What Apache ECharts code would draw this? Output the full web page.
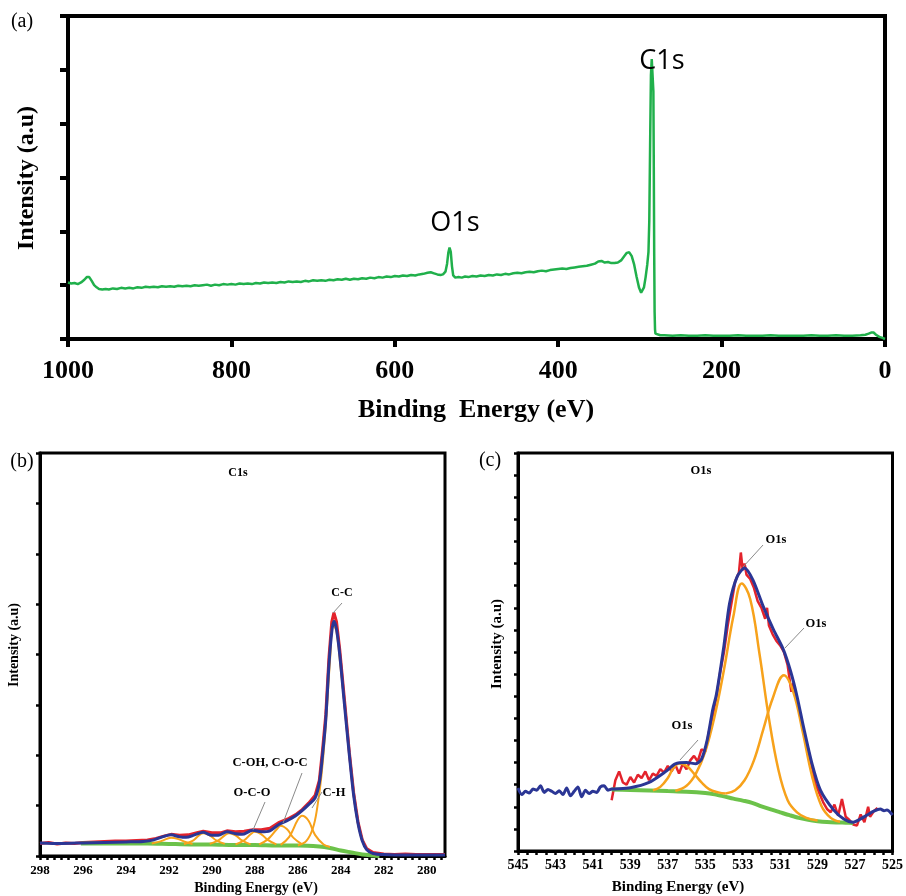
<!DOCTYPE html>
<html>
<head>
<meta charset="utf-8">
<title>XPS spectra</title>
<script src="https://cdn.jsdelivr.net/npm/echarts/dist/echarts.min.js"></script>
<style>
  html, body { margin: 0; padding: 0; background: #fff; }
  #chart { width: 906px; height: 896px; }
</style>
</head>
<body>
<div id="chart"></div>
<script>
// (a) survey spectrum  [binding energy eV, intensity a.u.]
var surveyPts = [
  [1000,1.05],[996,1.03],[992,1.04],[988,1.02],[984,1.05],[980,1.1],[977,1.15],[974,1.15],[971,1.08],[968,1.0],
  [965,0.96],[962,0.93],[958,0.92],[954,0.93],[950,0.92],[945,0.94],[940,0.93],[935,0.95],[930,0.94],[925,0.95],
  [920,0.94],[915,0.96],[910,0.95],[905,0.97],[900,0.96],[895,0.97],[890,0.96],[885,0.98],[880,0.97],[875,0.98],
  [870,0.97],[865,0.99],[860,0.98],[855,0.99],[850,0.98],[845,1.0],[840,0.99],[835,1.0],[830,1.01],[825,0.99],
  [820,1.01],[815,1.0],[810,1.02],[805,1.01],[800,1.02],[795,1.01],[790,1.03],[785,1.02],[780,1.03],[775,1.02],
  [770,1.04],[765,1.03],[760,1.05],[755,1.04],[750,1.05],[745,1.04],[740,1.06],[735,1.05],[730,1.07],[725,1.06],
  [720,1.07],[715,1.06],[710,1.08],[705,1.07],[700,1.09],[695,1.08],[690,1.09],[685,1.08],[680,1.1],[675,1.09],
  [670,1.11],[665,1.1],[660,1.12],[655,1.1],[650,1.12],[645,1.11],[640,1.13],[635,1.12],[630,1.14],[625,1.13],
  [620,1.15],[615,1.14],[610,1.16],[605,1.15],[600,1.17],[595,1.16],[590,1.18],[585,1.17],[580,1.19],[575,1.18],
  [570,1.2],[565,1.21],[560,1.23],[556,1.24],[552,1.22],[548,1.2],[544,1.19],[541,1.2],[538,1.25],[536,1.4],
  [534.5,1.6],[533,1.7],[531.5,1.62],[530,1.35],[528.5,1.18],[526,1.14],[522,1.15],[518,1.14],[514,1.16],[510,1.15],
  [505,1.17],[500,1.16],[495,1.18],[490,1.17],[485,1.19],[480,1.18],[475,1.2],[470,1.19],[465,1.21],[460,1.2],
  [455,1.22],[450,1.23],[445,1.22],[440,1.24],[435,1.25],[430,1.24],[425,1.26],[420,1.27],[415,1.26],[410,1.28],
  [405,1.29],[400,1.3],[395,1.31],[390,1.3],[385,1.32],[380,1.33],[375,1.34],[370,1.35],[365,1.36],[360,1.38],
  [355,1.4],[351,1.44],[347,1.45],[343,1.42],[339,1.43],[335,1.41],[331,1.41],[327,1.42],[323,1.46],[319,1.54],
  [316,1.6],[313,1.61],[310,1.54],[307,1.38],[304,1.15],[301,0.95],[298.5,0.86],[297,0.85],[295,0.96],[293,1.15],
  [291,1.38],[289.5,1.62],[288.5,2.2],[287.5,3.6],[286.5,4.9],[285.5,5.2],[284.5,5.2],[283.5,4.6],[283,3.2],[282.5,1.6],
  [282,0.5],[281.5,0.18],[281,0.1],[280,0.08],[275,0.07],[270,0.07],[260,0.06],[250,0.07],[240,0.06],[230,0.06],
  [220,0.07],[210,0.06],[200,0.06],[190,0.06],[180,0.07],[170,0.06],[160,0.06],[150,0.06],[140,0.07],[130,0.06],
  [120,0.06],[110,0.06],[100,0.06],[90,0.07],[80,0.06],[70,0.06],[60,0.07],[50,0.06],[40,0.06],[30,0.07],
  [24,0.08],[20,0.1],[17,0.12],[14,0.12],[11,0.08],[7,0.04],[3,0.02],[0,0.0]
];
var surveyTicks = [0, 200, 400, 600, 800, 1000];

// (b) C1s high resolution
var c1sRaw = [
  [298,0.25],[297.6,0.27],[297.2,0.24],[296.8,0.26],[296.4,0.25],[296,0.27],[295.5,0.28],[295,0.29],[294.5,0.3],[294,0.3],
  [293.5,0.31],[293,0.32],[292.6,0.35],[292.2,0.4],[291.9,0.43],[291.5,0.41],[291.1,0.42],[290.7,0.46],[290.4,0.49],[290.0,0.46],
  [289.6,0.46],[289.3,0.5],[288.9,0.48],[288.5,0.49],[288.1,0.52],[287.7,0.52],[287.3,0.55],[286.9,0.66],[286.5,0.73],[286.1,0.82],
  [285.8,0.92],[285.5,1.05],[285.2,1.2],[285.0,1.5],[284.85,2.1],[284.7,2.8],[284.55,3.95],[284.42,4.65],[284.32,4.83],[284.2,4.65],
  [284.05,4.1],[283.85,3.2],[283.6,2.05],[283.4,1.25],[283.2,0.68],[283.0,0.32],[282.8,0.15],[282.5,0.07],[282.0,0.04],[281.5,0.03],
  [281,0.04],[280.5,0.03],[280,0.03],[279.15,0.03]
];
var c1sFit = [
  [298,0.26],[297,0.25],[296,0.26],[295,0.27],[294,0.28],[293.2,0.29],[292.7,0.32],[292.3,0.38],[291.9,0.42],[291.5,0.38],
  [291.2,0.37],[290.8,0.42],[290.4,0.47],[290.0,0.41],[289.7,0.41],[289.3,0.48],[288.9,0.44],[288.6,0.43],[288.1,0.51],[287.7,0.48],
  [287.3,0.5],[286.9,0.62],[286.5,0.7],[286.1,0.8],[285.8,0.9],[285.5,1.02],[285.2,1.15],[285.0,1.45],[284.85,2.0],[284.7,2.7],
  [284.55,3.8],[284.42,4.45],[284.32,4.66],[284.2,4.5],[284.05,4.0],[283.85,3.1],[283.6,2.0],[283.4,1.2],[283.2,0.65],[283.0,0.3],
  [282.8,0.13],[282.5,0.05],[282.0,0.03],[281,0.02],[280,0.02],[279.15,0.02]
];
var c1sBg = [
  [296.1,0.25],[295,0.25],[294,0.25],[293,0.25],[292,0.24],[291,0.23],[290,0.23],[289,0.22],[288,0.22],[287,0.21],
  [286,0.21],[285,0.19],[284.5,0.16],[284,0.11],[283.5,0.07],[283,0.03],[282.5,0.01],[282.2,0]
];
var c1sPeaks = [
  [[292.8,0.25],[292.4,0.29],[292.1,0.34],[291.9,0.36],[291.6,0.34],[291.3,0.29],[290.9,0.24]],
  [[291.3,0.24],[290.9,0.3],[290.6,0.41],[290.4,0.45],[290.1,0.41],[289.8,0.31],[289.4,0.24]],
  [[290.1,0.24],[289.7,0.31],[289.4,0.41],[289.2,0.45],[288.9,0.41],[288.6,0.31],[288.2,0.23]],
  [[288.9,0.23],[288.5,0.31],[288.2,0.43],[288.0,0.48],[287.7,0.43],[287.4,0.32],[287.0,0.23]],
  [[287.8,0.23],[287.4,0.33],[287.0,0.52],[286.8,0.6],[286.5,0.53],[286.2,0.36],[285.8,0.23]],
  [[286.8,0.22],[286.4,0.38],[286.0,0.72],[285.8,0.8],[285.5,0.7],[285.2,0.42],[284.8,0.23],[284.5,0.18]],
  [[286.0,0.21],[285.6,0.3],[285.3,0.55],[285.1,0.95],[284.9,1.6],[284.7,2.6],[284.5,3.9],[284.35,4.6],[284.2,4.45],[284.0,3.7],
   [283.8,2.9],[283.5,1.6],[283.2,0.65],[282.9,0.2],[282.6,0.06],[282.3,0.02]]
];
var c1sLabels = [280, 282, 284, 286, 288, 290, 292, 294, 296, 298];

// (c) O1s high resolution
var o1sRaw = [
  [540.0,2.3],[539.8,3.2],[539.6,3.6],[539.4,3.1],[539.2,3.0],[539.0,3.35],[538.8,3.1],[538.6,3.45],[538.4,3.3],[538.2,3.6],
  [538.0,3.2],[537.8,3.5],[537.6,3.4],[537.4,3.7],[537.2,3.55],[537.0,3.85],[536.8,3.6],[536.6,3.9],[536.4,3.5],[536.2,3.95],
  [536.0,3.7],[535.8,4.1],[535.6,4.3],[535.4,4.05],[535.2,4.6],[535.0,4.5],[534.8,5.4],[534.6,6.1],[534.4,7.0],[534.2,8.1],
  [534.0,9.0],[533.8,10.2],[533.6,11.2],[533.4,12.2],[533.2,12.6],[533.1,13.5],[533.0,12.7],[532.9,13.0],[532.8,12.5],[532.6,12.3],
  [532.4,11.9],[532.2,11.3],[532.0,11.0],[531.8,10.5],[531.7,11.0],[531.6,10.2],[531.4,9.8],[531.2,9.5],[531.0,9.3],[530.8,9.0],
  [530.6,8.4],[530.4,7.2],[530.3,7.6],[530.1,6.8],[529.9,6.1],[529.7,5.2],[529.5,4.6],[529.3,3.8],[529.1,3.0],[528.9,2.6],
  [528.7,2.2],[528.5,1.9],[528.3,1.75],[528.1,2.1],[527.9,1.6],[527.7,2.35],[527.5,1.55],[527.3,1.4],[527.1,1.2],[526.9,1.15],
  [526.7,1.65],[526.5,1.3],[526.3,2.0],[526.2,1.55],[526.0,1.8],[525.8,1.95]
];
var o1sFit = [
  [545,2.85],[544.8,2.55],[544.6,2.7],[544.4,2.62],[544.2,2.8],[544.0,2.75],[543.8,2.95],[543.6,2.65],[543.4,2.78],[543.2,2.7],
  [543.0,2.6],[542.8,2.72],[542.6,2.55],[542.4,2.85],[542.2,2.5],[542.0,2.7],[541.8,2.9],[541.6,2.45],[541.4,2.75],[541.2,2.6],
  [541.0,2.7],[540.8,2.65],[540.6,2.9],[540.4,2.95],[540.2,2.75],[540.0,2.8],[539.0,2.86],[538.0,3.1],[537.1,3.6],[536.6,3.94],
  [536.0,4.0],[535.5,3.95],[535.2,4.15],[534.9,5.0],[534.6,6.4],[534.4,7.1],[534.0,9.3],[533.7,11.2],[533.3,12.4],[532.9,12.8],
  [532.45,12.25],[531.9,11.05],[531.35,10.0],[530.85,9.15],[530.45,8.15],[530.1,7.0],[529.75,5.6],[529.3,3.95],[528.85,2.75],[528.15,1.86],
  [527.6,1.45],[527.1,1.3],[526.7,1.45],[526.35,1.63],[526.0,1.8],[525.65,1.9],[525.45,1.82],[525.3,1.85],[525.0,1.63]
];
var o1sBg = [
  [540,2.78],[539,2.76],[538,2.74],[537,2.71],[536,2.68],[535,2.62],[534.5,2.56],[534,2.47],[533.5,2.37],[533,2.28],
  [532.5,2.18],[532,2.02],[531.5,1.88],[531,1.75],[530.5,1.62],[530,1.5],[529.5,1.41],[529,1.35],[528.5,1.31],[528,1.29],
  [527.5,1.28],[527.1,1.27]
];
var o1sPeaks = [
  [[537.8,2.74],[537.4,2.9],[537.0,3.3],[536.7,3.75],[536.4,3.96],[536.0,3.85],[535.6,3.5],[535.2,3.1],[534.8,2.8],[534.3,2.65],[533.9,2.6]],
  [[536.6,2.72],[536.0,2.95],[535.5,3.5],[535.0,4.5],[534.5,6.1],[534.0,8.2],[533.5,10.6],[533.05,12.1],[532.6,11.4],[532.1,8.9],
   [531.6,6.0],[531.1,3.7],[530.6,2.3],[530.1,1.75],[529.6,1.5],[529.0,1.38]],
  [[533.9,2.6],[533.4,2.75],[532.9,3.2],[532.4,4.1],[531.9,5.5],[531.4,6.9],[530.8,7.95],[530.3,7.2],[529.8,5.4],[529.3,3.4],
   [528.8,2.05],[528.3,1.5],[527.8,1.32]]
];
var o1sLabels = [525, 527, 529, 531, 533, 535, 537, 539, 541, 543, 545];

var SERIF = "'Liberation Serif', 'Times New Roman', serif";
var RED = '#e3232c', BLUE = '#2b3695', ORANGE = '#f7a21b', GREEN = '#6cc24a', SURVEY = '#20b04b';

function ln(data, color, width, idx, smooth, z) {
  return {
    type: 'line', data: data, xAxisIndex: idx, yAxisIndex: idx,
    showSymbol: false, smooth: smooth, z: z, silent: true, animation: false,
    lineStyle: { color: color, width: width }
  };
}

// dotted tick marks along the small panels
function steps(from, to, step) {
  var out = [];
  for (var v = from; v <= to + 1e-6; v += step) out.push(+v.toFixed(3));
  return out;
}
var c1sTicks = steps(279 + 1 / 3, 298, 1 / 3);
var o1sTicks = steps(525, 545, 0.5);

var plain = function (v) { return String(v); };

var chart = echarts.init(document.getElementById('chart'));

var dotTick = { show: true, inside: false, length: 4, lineStyle: { color: '#000', width: 2.5 } };

var option = {
  backgroundColor: '#fff',
  animation: false,
  grid: [
    { left: 68, top: 16, width: 817, height: 323, show: true, borderColor: '#000', borderWidth: 4 },
    { left: 40, top: 453, width: 405, height: 403, show: true, borderColor: '#000', borderWidth: 3 },
    { left: 518, top: 453, width: 375, height: 398, show: true, borderColor: '#000', borderWidth: 3 }
  ],
  xAxis: [
    {
      gridIndex: 0, type: 'value', min: 0, max: 1000, interval: 200, inverse: true,
      axisLine: { onZero: false, lineStyle: { color: '#000', width: 4 } },
      axisTick: { show: true, length: 8, lineStyle: { color: '#000', width: 4 } },
      axisLabel: { color: '#000', fontFamily: SERIF, fontWeight: 'bold', fontSize: 26, margin: 19,
                   customValues: surveyTicks, formatter: plain },
      splitLine: { show: false }
    },
    {
      gridIndex: 1, type: 'value', min: 279.15, max: 298, inverse: true,
      axisLine: { onZero: false, lineStyle: { color: '#000', width: 3 } },
      axisTick: Object.assign({ customValues: c1sTicks }, dotTick),
      axisLabel: { color: '#000', fontFamily: SERIF, fontWeight: 'bold', fontSize: 13, margin: 8,
                   customValues: c1sLabels, formatter: plain },
      splitLine: { show: false }
    },
    {
      gridIndex: 2, type: 'value', min: 525, max: 545, inverse: true,
      axisLine: { onZero: false, lineStyle: { color: '#000', width: 3 } },
      axisTick: Object.assign({ customValues: o1sTicks }, dotTick),
      axisLabel: { color: '#000', fontFamily: SERIF, fontWeight: 'bold', fontSize: 14, margin: 7,
                   customValues: o1sLabels, formatter: plain },
      splitLine: { show: false }
    }
  ],
  yAxis: [
    {
      gridIndex: 0, type: 'value', min: 0, max: 6, interval: 1, position: 'left',
      axisLine: { show: true, onZero: false, lineStyle: { color: '#000', width: 4 } },
      axisTick: { show: true, length: 8, lineStyle: { color: '#000', width: 4 } },
      axisLabel: { show: false }, splitLine: { show: false }
    },
    {
      gridIndex: 1, type: 'value', min: 0, max: 8, interval: 1, position: 'left',
      axisLine: { show: true, onZero: false, lineStyle: { color: '#000', width: 3 } },
      axisTick: dotTick, axisLabel: { show: false }, splitLine: { show: false }
    },
    {
      gridIndex: 2, type: 'value', min: 0, max: 18, interval: 1, position: 'left',
      axisLine: { show: true, onZero: false, lineStyle: { color: '#000', width: 3 } },
      axisTick: dotTick, axisLabel: { show: false }, splitLine: { show: false }
    }
  ],
  series: []
};

option.series.push(ln(surveyPts, SURVEY, 2.5, 0, false, 3));

option.series.push(ln(c1sRaw, RED, 3, 1, false, 2));
option.series.push(ln(c1sBg, GREEN, 4, 1, 0.3, 3));
c1sPeaks.forEach(function (p) { option.series.push(ln(p, ORANGE, 2, 1, 0.4, 4)); });
option.series.push(ln(c1sFit, BLUE, 3, 1, 0.3, 5));

option.series.push(ln(o1sRaw, RED, 2.5, 2, false, 2));
option.series.push(ln(o1sBg, GREEN, 4, 2, 0.3, 3));
o1sPeaks.forEach(function (p) { option.series.push(ln(p, ORANGE, 2.5, 2, 0.4, 4)); });
option.series.push(ln(o1sFit, BLUE, 3, 2, 0.25, 5));

function txt(x, y, s, font, extra) {
  var o = {
    type: 'text', x: x, y: y, z: 20, silent: true,
    style: { text: s, font: font, fill: '#000', align: 'center', verticalAlign: 'middle' }
  };
  if (extra) Object.assign(o, extra);
  return o;
}
function lead(x1, y1, x2, y2) {
  return { type: 'line', z: 19, silent: true, shape: { x1: x1, y1: y1, x2: x2, y2: y2 },
           style: { stroke: '#8a8a8a', lineWidth: 1 } };
}
var up = { rotation: Math.PI / 2 };

option.graphic = [
  txt(22, 22, '(a)', '20px ' + SERIF),
  txt(27, 178, 'Intensity (a.u)', 'bold 24px ' + SERIF, up),
  txt(476, 410, 'Binding  Energy (eV)', 'bold 26px ' + SERIF),
  txt(455, 223, 'O1s', "27px 'Open Sans', sans-serif"),
  txt(662, 61, 'C1s', "27px 'Open Sans', sans-serif"),

  txt(22, 462, '(b)', '20px ' + SERIF),
  txt(14, 645, 'Intensity (a.u)', 'bold 14px ' + SERIF, up),
  txt(256, 888, 'Binding Energy (eV)', 'bold 14px ' + SERIF),
  txt(238, 473, 'C1s', 'bold 12px ' + SERIF),
  txt(342, 593, 'C-C', 'bold 12px ' + SERIF),
  txt(270, 763, 'C-OH, C-O-C', 'bold 12.5px ' + SERIF),
  txt(252, 793, 'O-C-O', 'bold 12.5px ' + SERIF),
  txt(334, 793, 'C-H', 'bold 12.5px ' + SERIF),
  lead(342, 603, 333, 613),
  lead(302, 773, 283, 823),
  lead(265, 802, 253, 830),
  lead(322, 792, 312, 808),

  txt(490, 461, '(c)', '20px ' + SERIF),
  txt(497, 644, 'Intensity (a.u)', 'bold 15px ' + SERIF, up),
  txt(678, 887, 'Binding Energy (eV)', 'bold 15px ' + SERIF),
  txt(701, 471, 'O1s', 'bold 12.5px ' + SERIF),
  txt(776, 540, 'O1s', 'bold 12.5px ' + SERIF),
  txt(816, 624, 'O1s', 'bold 12.5px ' + SERIF),
  txt(682, 726, 'O1s', 'bold 12.5px ' + SERIF),
  lead(763, 545, 743, 567),
  lead(804, 628, 785, 648),
  lead(698, 740, 680, 760)
];

chart.setOption(option);
</script>
</body>
</html>
